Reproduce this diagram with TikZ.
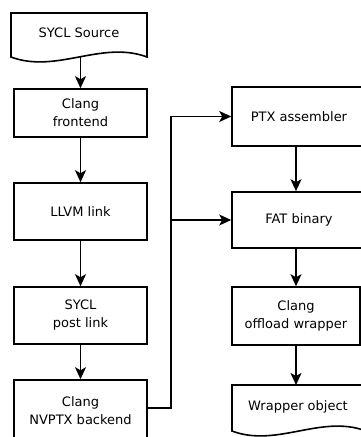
\documentclass[tikz,border=0pt]{standalone}
\usepackage{fontspec}
\setmainfont{DejaVu Sans}
\usetikzlibrary{arrows.meta}
\begin{document}
\begin{tikzpicture}[x=1pt,y=-1pt,line width=1.6pt,
  lbl/.style={align=center,inner sep=0pt,font=\fontsize{13}{18}\selectfont},
  box/.style={lbl,draw,rectangle},
  arr/.style={-{Stealth[length=12pt,width=11pt,inset=3pt]}}]
\useasboundingbox (0,0) rectangle (361,437);
% SYCL Source document
\draw (11,57) -- (11,13) -- (147,13) -- (147,57)
  .. controls (101.7,40) and (56.3,74) .. (11,57) -- cycle;
\node[lbl] (src) at (79,33) {SYCL Source};
\coordinate (srcb) at (80.5,57);
% left column
\node[box,minimum width=133,minimum height=48] (fe) at (80.5,113) {Clang\\frontend};
\node[box,minimum width=133,minimum height=57] (llvm) at (80.5,211.5) {LLVM link};
\node[box,minimum width=133,minimum height=57] (post) at (80.5,315.5) {SYCL\\post link};
\node[box,minimum width=133,minimum height=61] (nv) at (80.5,410.5) {Clang\\NVPTX backend};
% right column
\node[box,minimum width=134,minimum height=59] (ptx) at (299,116.5) {PTX assembler};
\node[box,minimum width=134,minimum height=56] (fat) at (299,220) {FAT binary};
\node[box,minimum width=128,minimum height=58] (wrap) at (296,316) {Clang\\offload wrapper};
% Wrapper object document
\draw (232,431) -- (232,385) -- (366,385) -- (366,431)
  .. controls (321.3,414) and (276.7,448) .. (232,431) -- cycle;
\node[lbl] (obj) at (298,407) {Wrapper object};
\coordinate (objt) at (296,385);
% connectors
\draw[arr] (srcb) -- (fe.north);
\draw[arr] (fe) -- (llvm);
\draw[arr] (llvm) -- (post);
\draw[arr] (post) -- (nv);
\coordinate (bus) at (171,220);
\draw[arr] (nv.east |- 0,408) -| (bus) |- (ptx.west);
\draw[arr] (bus) -- (fat.west);
\draw[arr] (ptx.south -| wrap.north) -- (fat.north -| wrap.north);
\draw[arr] (fat.south -| wrap.north) -- (wrap.north);
\draw[arr] (wrap.south) -- (objt);
\end{tikzpicture}
\end{document}
